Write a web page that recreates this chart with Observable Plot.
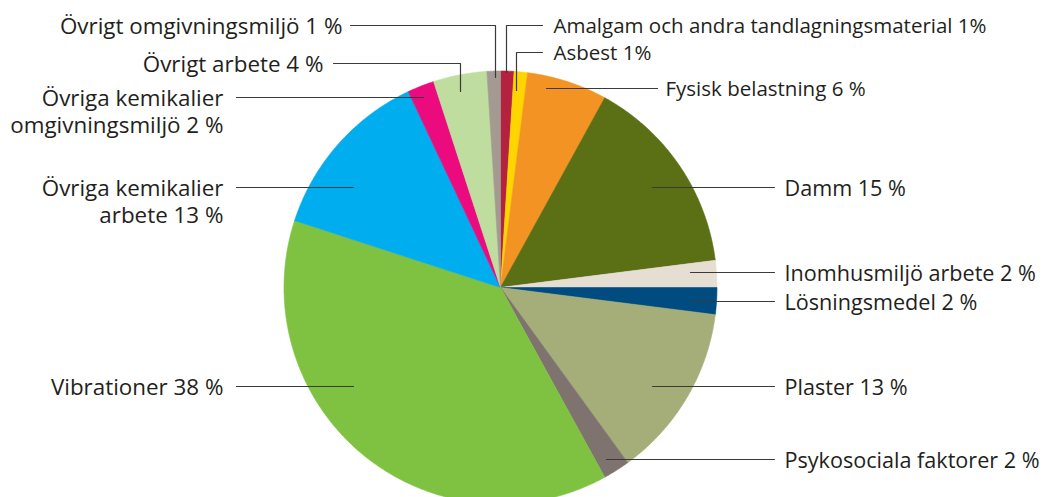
<!DOCTYPE html>
<html>
<head>
<meta charset="utf-8">
<script src="https://cdn.jsdelivr.net/npm/d3@7"></script>
<script src="https://cdn.jsdelivr.net/npm/@observablehq/plot@0.6"></script>
<style>
  html, body { margin: 0; padding: 0; background: #fff; overflow: hidden; }
  #chart svg { display: block; }
</style>
</head>
<body>
<div id="chart"></div>
<script>
// ---- data (clockwise from 12 o'clock) ----
const categories = [
  "Amalgam och andra tandlagningsmaterial",
  "Asbest",
  "Fysisk belastning",
  "Damm",
  "Inomhusmiljö arbete",
  "Lösningsmedel",
  "Plaster",
  "Psykosociala faktorer",
  "Vibrationer",
  "Övriga kemikalier arbete",
  "Övriga kemikalier omgivningsmiljö",
  "Övrigt arbete",
  "Övrigt omgivningsmiljö"
];
const values = [1, 1, 6, 15, 2, 2, 13, 2, 38, 13, 2, 4, 1];
const colors = [
  "#b3223f", "#ffd500", "#f39323", "#5b6f15", "#e7ded3", "#004b7f", "#a5ae78",
  "#7e736e", "#7fc241", "#00adee", "#ec0a7f", "#bedd9e", "#a59a92"
];
// label text: name, value and percent sign ("1%" written tight for the first two)
const tightPercent = ["Amalgam och andra tandlagningsmaterial", "Asbest"];
const lineBreaks = {
  "Övriga kemikalier arbete": "Övriga kemikalier\narbete",
  "Övriga kemikalier omgivningsmiljö": "Övriga kemikalier\nomgivningsmiljö"
};

// ---- layout (pixels) ----
const W = 1047, H = 497;
const cx = 500, cy = 287, R = 216.5;
const LH = 1.2;
// leader lines: from inside the slice out to the label
const leaders = {
  "Amalgam och andra tandlagningsmaterial": {pts: [[506, 72], [506, 25], [542, 25]], side: "right", gap: 11, fs: 20.5},
  "Asbest": {pts: [[516, 90], [516, 52], [542, 52]], side: "right", gap: 11, fs: 20.5},
  "Fysisk belastning": {pts: [[546, 88], [657, 88]], side: "right", gap: 8, fs: 20.5},
  "Damm": {pts: [[652, 187], [774, 187]], side: "right", gap: 10, fs: 21.6},
  "Inomhusmiljö arbete": {pts: [[690, 272], [774, 272]], side: "right", gap: 10, fs: 21.6},
  "Lösningsmedel": {pts: [[690, 301], [774, 301]], side: "right", gap: 10, fs: 21.6},
  "Plaster": {pts: [[652, 386], [774, 386]], side: "right", gap: 10, fs: 21.6},
  "Psykosociala faktorer": {pts: [[606, 459], [774, 459]], side: "right", gap: 10, fs: 21.6},
  "Vibrationer": {pts: [[353, 386], [236, 386]], side: "left", gap: 13, fs: 22.4},
  "Övriga kemikalier arbete": {pts: [[353, 187], [236, 187]], side: "left", gap: 13, fs: 22.4},
  "Övriga kemikalier omgivningsmiljö": {pts: [[423, 97], [236, 97]], side: "left", gap: 13, fs: 22.4},
  "Övrigt arbete": {pts: [[460, 91], [460, 63], [333, 63]], side: "left", gap: 10, fs: 22.4},
  "Övrigt omgivningsmiljö": {pts: [[495, 77], [495, 25], [350, 25]], side: "left", gap: 8, fs: 22.4}
};

// ---- build slices with d3.pie (angles), sampled as polygons ----
const pie = d3.pie().sort(null).value(d => d.value);
const arcs = pie(categories.map((name, i) => ({name, value: values[i], color: colors[i]})));
const slicePts = [];
for (const a of arcs) {
  const n = Math.max(4, Math.ceil((a.endAngle - a.startAngle) / (Math.PI / 360)));
  slicePts.push({name: a.data.name, color: a.data.color, x: cx, y: cy});
  for (let k = 0; k <= n; k++) {
    const t = a.startAngle + (a.endAngle - a.startAngle) * k / n;
    slicePts.push({name: a.data.name, color: a.data.color, x: cx + R * Math.sin(t), y: cy - R * Math.cos(t)});
  }
  slicePts.push({name: a.data.name, color: a.data.color, x: cx, y: cy});
}

const leaderPts = [];
const labelRows = [];
categories.forEach((name, i) => {
  const L = leaders[name];
  L.pts.forEach(([x, y]) => leaderPts.push({name, x, y}));
  const [ex, ey] = L.pts[L.pts.length - 1];
  const base = lineBreaks[name] || name;
  const text = base + " " + values[i] + (tightPercent.includes(name) ? "%" : " %");
  const nLines = text.split("\n").length;
  labelRows.push({
    text,
    fs: L.fs,
    x: L.side === "right" ? ex + L.gap : ex - L.gap,
    y: ey + (nLines - 1) * LH * L.fs / 2,
    anchor: L.side === "right" ? "start" : "end"
  });
});

const chart = Plot.plot({
  width: W,
  height: H,
  margin: 0,
  x: {domain: [0, W], range: [0, W], axis: null},
  y: {domain: [0, H], range: [0, H], axis: null},
  color: {type: "identity"},
  style: {fontFamily: "'Open Sans', sans-serif", fontSize: "21px", background: "#fff", color: "#231f20"},
  marks: [
    Plot.line(slicePts, {x: "x", y: "y", z: "name", fill: d => d.color, stroke: d => d.color, strokeWidth: 0.6, curve: "linear"}),
    Plot.line(leaderPts, {x: "x", y: "y", z: "name", stroke: "#3a3a3a", strokeWidth: 1.2, curve: "linear"}),
    Plot.text(labelRows.filter(d => d.anchor === "start"), {x: "x", y: "y", text: "text", textAnchor: "start", lineAnchor: "middle", lineHeight: LH, fontSize: "fs", fill: "#231f20"}),
    Plot.text(labelRows.filter(d => d.anchor === "end"), {x: "x", y: "y", text: "text", textAnchor: "end", lineAnchor: "middle", lineHeight: LH, fontSize: "fs", fill: "#231f20"})
  ]
});
document.getElementById("chart").appendChild(chart);
</script>
</body>
</html>
